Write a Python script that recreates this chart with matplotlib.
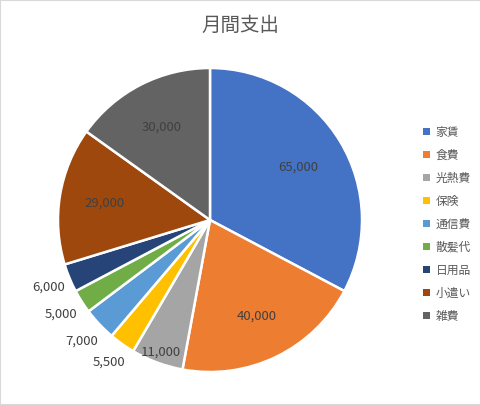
import matplotlib
matplotlib.use("Agg")
import matplotlib.pyplot as plt
import numpy as np
from matplotlib.patches import Rectangle

plt.rcParams['font.family'] = ['Noto Sans CJK JP', 'DejaVu Sans']

categories = ['家賃', '食費', '光熱費', '保険', '通信費', '散髪代', '日用品', '小遣い', '雑費']
values = [65000, 40000, 11000, 5500, 7000, 5000, 6000, 29000, 30000]
colors = ['#4472C4', '#ED7D31', '#A5A5A5', '#FFC000', '#5B9BD5', '#70AD47', '#264478', '#9E480E', '#636363']
label_dist = [0.68, 0.70, 0.93, 1.15, 1.16, 1.16, 1.15, 0.70, 0.69]

W, H = 481, 405
fig = plt.figure(figsize=(W/100, H/100), dpi=100)
fig.patches.append(Rectangle((0, 0), 1, 1, transform=fig.transFigure, fill=False,
                             edgecolor='#D9D9D9', linewidth=1.5))

cx, cy, r = 210, 220, 152
ax = fig.add_axes([(cx - r)/W, (H - cy - r)/H, 2*r/W, 2*r/H])
wedges, _ = ax.pie(values, colors=colors, startangle=90, counterclock=False,
                   wedgeprops=dict(edgecolor='white', linewidth=1.8))
ax.set_xlim(-1, 1)
ax.set_ylim(-1, 1)
ax.set_aspect('auto')
ax.axis('off')

for w, v, d in zip(wedges, values, label_dist):
    ang = np.deg2rad((w.theta1 + w.theta2) / 2)
    ax.text(d*np.cos(ang), d*np.sin(ang), f"{v:,}", ha='center', va='center',
            fontsize=9.5, color='#404040')

fig.text(240/W, 1 - 25/H, '月間支出', ha='center', va='center', fontsize=14, color='#595959')

leg = fig.legend(wedges, categories, loc='upper left', bbox_to_anchor=(412/W, 1 - 115/H),
                 frameon=False, fontsize=8.5, handlelength=0.6, handleheight=0.6,
                 handletextpad=0.5, labelspacing=0.85, labelcolor='#595959')
for h in leg.legend_handles:
    h.set_edgecolor('none')

fig.savefig('out.png', dpi=100)
